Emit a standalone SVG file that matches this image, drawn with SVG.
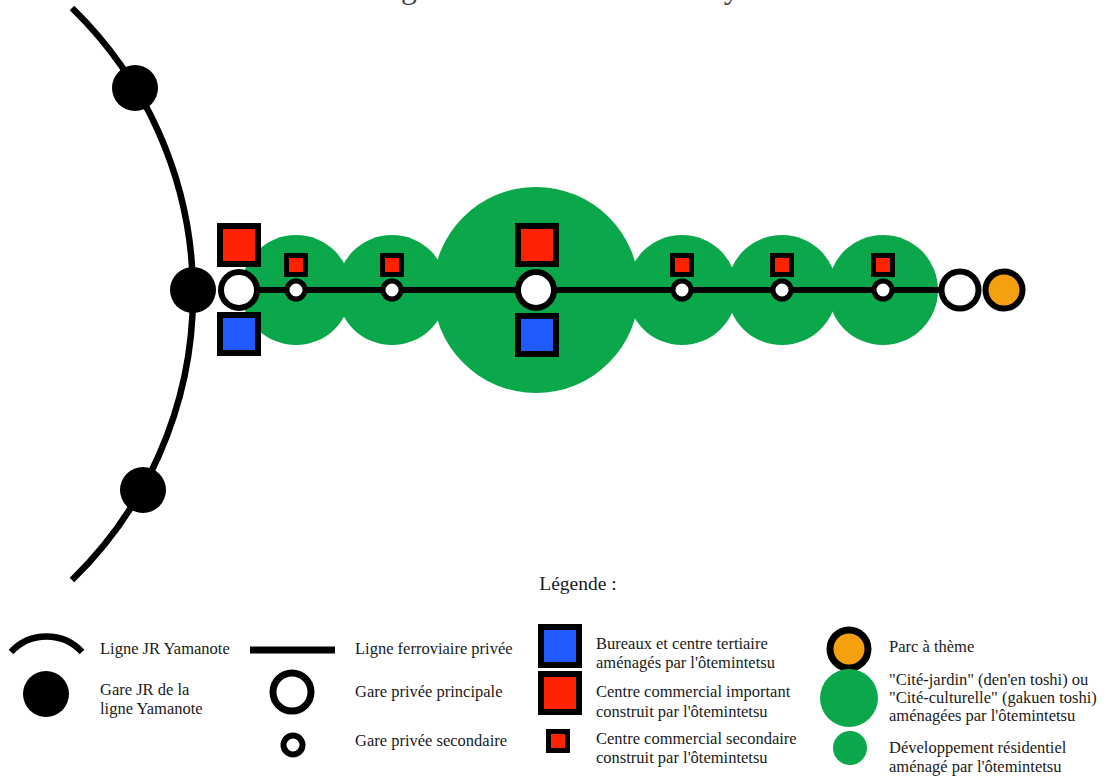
<svg xmlns="http://www.w3.org/2000/svg" width="1110" height="778" viewBox="0 0 1110 778">
<style>
.t{font-family:"Liberation Serif","Times New Roman",serif;font-size:16.5px;fill:#1a1a1a}
.green{fill:#0aa74b}
.blk{stroke:#000;fill:none}
.red{fill:#ff2200;stroke:#000}
.blue{fill:#1f5bff;stroke:#000}
.st{fill:#fff;stroke:#000}
.or{fill:#f5a00f;stroke:#000}
</style>
<rect width="1110" height="778" fill="#fff"/>
<text x="327" y="-2.5" class="t" style="font-size:31.7px;fill:#444">Stratégie des ôtemintetsu à Tokyo</text>

<g id="zones">
<circle class="green" cx="296" cy="290" r="55"/>
<circle class="green" cx="392" cy="290" r="55"/>
<circle class="green" cx="536" cy="290" r="103"/>
<circle class="green" cx="682" cy="290" r="55"/>
<circle class="green" cx="782" cy="290" r="55"/>
<circle class="green" cx="883" cy="290" r="55"/>
</g>

<g id="connectors">
<path class="blk" d="M72,8 A398.5,398.5 0 0 1 72,580" stroke-width="6.5"/>
<line class="blk" x1="239" y1="290" x2="960" y2="290" stroke-width="6"/>
</g>

<g id="jr-stations">
<circle cx="135" cy="88" r="23" fill="#000"/>
<circle cx="193" cy="290" r="23" fill="#000"/>
<circle cx="143" cy="490" r="23" fill="#000"/>
</g>

<g id="shops">
<rect class="red" x="220" y="226" width="38" height="38" stroke-width="6"/>
<rect class="blue" x="220" y="315" width="38" height="38" stroke-width="6"/>
<rect class="red" x="518" y="226" width="38" height="38" stroke-width="6"/>
<rect class="blue" x="518" y="316" width="38" height="38" stroke-width="6"/>
<rect class="red" x="286.5" y="255.5" width="19" height="19" stroke-width="5"/>
<rect class="red" x="382.5" y="255.5" width="19" height="19" stroke-width="5"/>
<rect class="red" x="672.5" y="255.5" width="19" height="19" stroke-width="5"/>
<rect class="red" x="772.5" y="255.5" width="19" height="19" stroke-width="5"/>
<rect class="red" x="873.5" y="255.5" width="19" height="19" stroke-width="5"/>
</g>

<g id="private-stations">
<circle class="st" cx="239" cy="290" r="18" stroke-width="6"/>
<circle class="st" cx="536" cy="290" r="18" stroke-width="6"/>
<circle class="st" cx="296" cy="290" r="9" stroke-width="5"/>
<circle class="st" cx="392" cy="290" r="9" stroke-width="5"/>
<circle class="st" cx="682" cy="290" r="9" stroke-width="5"/>
<circle class="st" cx="782" cy="290" r="9" stroke-width="5"/>
<circle class="st" cx="883" cy="290" r="9" stroke-width="5"/>
<circle class="st" cx="960" cy="290" r="18.5" stroke-width="6"/>
</g>

<g id="theme-park">
<circle class="or" cx="1004" cy="290" r="18.5" stroke-width="6"/>
</g>

<g id="legend">
<text x="578" y="590" class="t" style="font-size:19.5px" text-anchor="middle">Légende :</text>

<path class="blk" d="M11,652 A48.5,48.5 0 0 1 82,652" stroke-width="6.5"/>
<text x="100" y="654" class="t">Ligne JR Yamanote</text>
<circle cx="46" cy="694" r="23" fill="#000"/>
<text x="100" y="695" class="t">Gare JR de la</text>
<text x="100" y="714" class="t">ligne Yamanote</text>

<line class="blk" x1="250" y1="650" x2="335" y2="650" stroke-width="7"/>
<text x="355" y="654" class="t">Ligne ferroviaire privée</text>
<circle class="st" cx="292" cy="692" r="19" stroke-width="7"/>
<text x="355" y="697" class="t">Gare privée principale</text>
<circle class="st" cx="293" cy="745" r="9.5" stroke-width="6"/>
<text x="355" y="746" class="t">Gare privée secondaire</text>

<rect class="blue" x="541" y="627" width="38" height="38" stroke-width="6"/>
<text x="596" y="649" class="t">Bureaux et centre tertiaire</text>
<text x="596" y="668" class="t">aménagés par l'ôtemintetsu</text>
<rect class="red" x="541" y="674" width="38" height="38" stroke-width="6"/>
<text x="596" y="697" class="t">Centre commercial important</text>
<text x="596" y="717" class="t">construit par l'ôtemintetsu</text>
<rect class="red" x="548.5" y="731.5" width="19" height="19" stroke-width="5"/>
<text x="596" y="744" class="t">Centre commercial secondaire</text>
<text x="596" y="763" class="t">construit par l'ôtemintetsu</text>

<circle class="or" cx="849" cy="649" r="19" stroke-width="7"/>
<text x="889" y="652" class="t">Parc à thème</text>
<circle class="green" cx="849" cy="698" r="29"/>
<text x="889" y="685" class="t">"Cité-jardin" (den'en toshi) ou</text>
<text x="889" y="703" class="t">"Cité-culturelle" (gakuen toshi)</text>
<text x="889" y="721" class="t">aménagées par l'ôtemintetsu</text>
<circle class="green" cx="850" cy="748" r="17"/>
<text x="889" y="753" class="t">Développement résidentiel</text>
<text x="889" y="772" class="t">aménagé par l'ôtemintetsu</text>
</g>
</svg>
